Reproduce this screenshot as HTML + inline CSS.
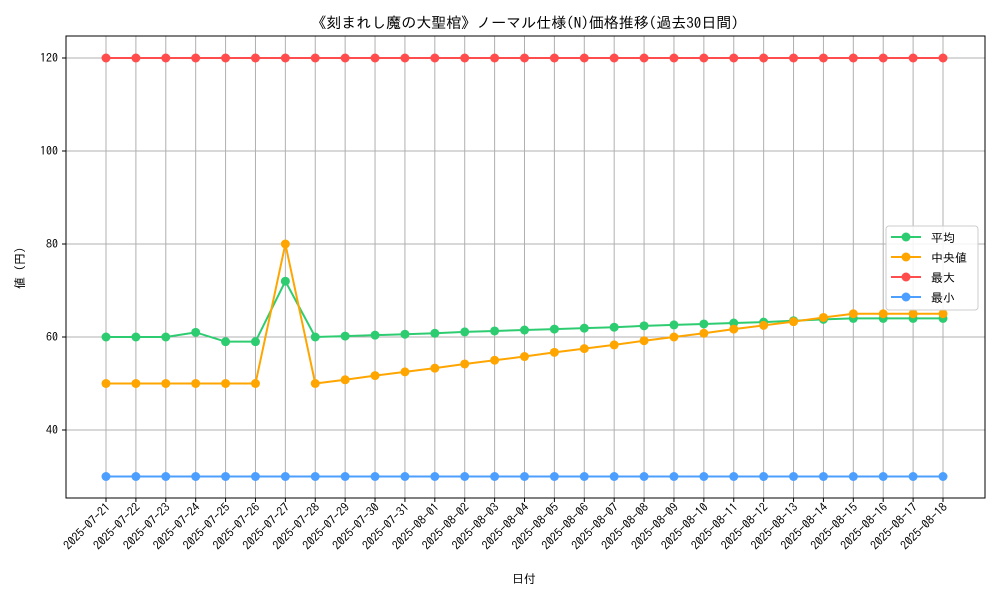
<!DOCTYPE html>
<html><head><meta charset="utf-8"><style>
body{margin:0;background:#fff}
svg text{font-family:"IPAGothic","Noto Sans CJK JP",sans-serif;fill:#000}
</style></head><body>
<svg id="c" width="1000" height="600" xmlns="http://www.w3.org/2000/svg">
<rect width="1000" height="600" fill="#fff"/>
<text x="525" y="28" font-size="15" text-anchor="middle">《刻まれし魔の大聖棺》ノーマル仕様(N)価格推移(過去30日間)</text>
<text x="524" y="583" font-size="12" text-anchor="middle">日付</text>
<text x="24" y="268" font-size="12" text-anchor="middle" transform="rotate(-90 24 268)">値 (円)</text>
<g id="grid"></g><g id="series"></g><g id="ticks"></g>
<rect x="66" y="36" width="919" height="462" fill="none" stroke="#000" stroke-width="1"/>
<g>
<rect x="886" y="226" width="92" height="84" rx="3" fill="#fff" fill-opacity="0.85" stroke="#ccc"/>
<g id="legend"></g>
</g>
</svg>
<script>
const dates=["2025-07-21","2025-07-22","2025-07-23","2025-07-24","2025-07-25","2025-07-26","2025-07-27","2025-07-28","2025-07-29","2025-07-30","2025-07-31","2025-08-01","2025-08-02","2025-08-03","2025-08-04","2025-08-05","2025-08-06","2025-08-07","2025-08-08","2025-08-09","2025-08-10","2025-08-11","2025-08-12","2025-08-13","2025-08-14","2025-08-15","2025-08-16","2025-08-17","2025-08-18"];
const meanVals=[60,60,60,61,59,59,72,60,60.2,60.4,60.6,60.8,61.1,61.3,61.5,61.7,61.9,62.1,62.4,62.6,62.8,63.0,63.2,63.5,63.8,64,64,64,64];
const medianVals=[50,50,50,50,50,50,80,50,50.8,51.7,52.5,53.3,54.2,55,55.8,56.7,57.5,58.3,59.2,60,60.8,61.7,62.5,63.3,64.2,65,65,65,65];
const maxVals=dates.map(()=>120);
const minVals=dates.map(()=>30);
const yTicks=[40,60,80,100,120];
const seriesNames=["平均","中央値","最大","最小"];
const NS="http://www.w3.org/2000/svg";
const x=i=>106+i*(943-106)/28;
const y=v=>337-(v-60)*4.65;
function mk(t,a,p){const e=document.createElementNS(NS,t);for(const k in a)e.setAttribute(k,a[k]);p.appendChild(e);return e;}
const grid=document.getElementById('grid'),ticks=document.getElementById('ticks'),ser=document.getElementById('series'),leg=document.getElementById('legend');
dates.forEach((d,i)=>{
 const g=mk('line',{x1:x(i),x2:x(i),y1:36,y2:498,stroke:'#b0b0b0','stroke-width':1},grid);
 
 
 mk('line',{x1:x(i),x2:x(i),y1:498,y2:502,stroke:'#000'},ticks);
 const t=mk('text',{x:x(i)+5,y:508,'font-size':12,'text-anchor':'end',transform:`rotate(-45 ${x(i)+5} 508)`},ticks);
 t.textContent=d;
 
 
});
yTicks.forEach(v=>{
 const g=mk('line',{x1:66,x2:985,y1:y(v),y2:y(v),stroke:'#b0b0b0'},grid);
 
 
 mk('line',{x1:62,x2:66,y1:y(v),y2:y(v),stroke:'#000'},ticks);
 const t=mk('text',{x:58,y:y(v)+4,'font-size':12,'text-anchor':'end'},ticks);
 t.textContent=v;
 
 
});
const all=[[meanVals,'#2ecc71','mean'],[medianVals,'#ffa500','median'],[maxVals,'#ff4d4d','max'],[minVals,'#4d9fff','min']];
all.forEach(([vals,col,n],k)=>{
 const g=mk('g',{},ser);
 
 
 mk('polyline',{points:vals.map((v,i)=>x(i)+','+y(v)).join(' '),fill:'none',stroke:col,'stroke-width':2},g);
 vals.forEach((v,i)=>{const c=mk('circle',{cx:x(i),cy:y(v),r:4.5,fill:col},g);
  
  });
 const ly=237+k*20;
 const le=mk('g',{},leg);
 
 
 mk('line',{x1:891,x2:921,y1:ly,y2:ly,stroke:col,'stroke-width':2},le);
 mk('circle',{cx:906,cy:ly,r:4.5,fill:col},le);
 const t=mk('text',{x:931,y:ly+5,'font-size':12},le);t.textContent=seriesNames[k];
});
</script>
</body></html>
